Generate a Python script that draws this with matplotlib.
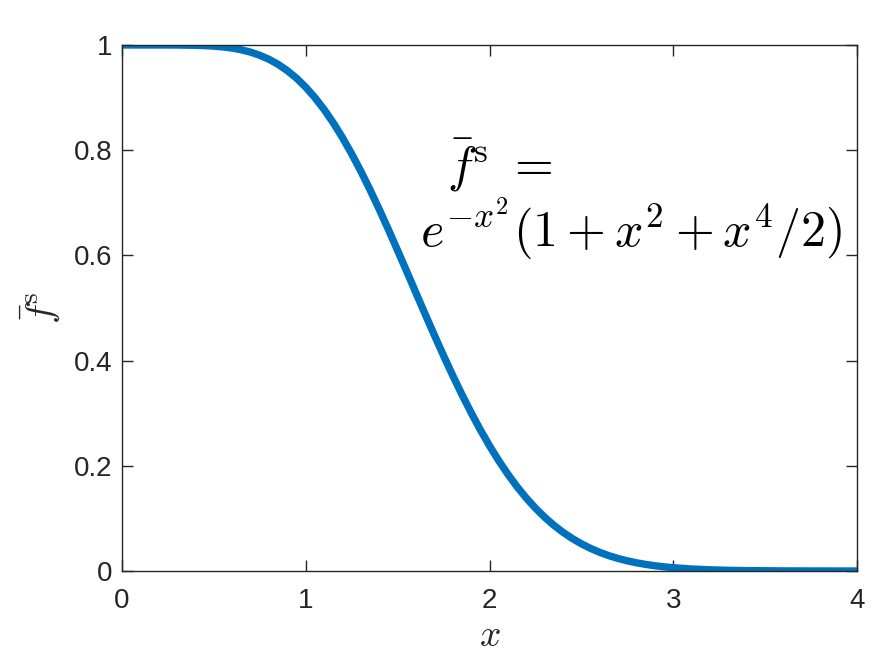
import matplotlib
matplotlib.use("Agg")
import matplotlib.pyplot as plt

# values
x_vals = [0.0, 0.1, 0.2, 0.3, 0.4, 0.45, 0.5, 0.55, 0.6, 0.65, 0.7, 0.75, 0.8, 0.85, 0.9, 0.95,
          1.0, 1.05, 1.1, 1.15, 1.2, 1.25, 1.3, 1.35, 1.4, 1.45, 1.5, 1.55, 1.6, 1.65, 1.7, 1.75,
          1.8, 1.85, 1.9, 1.95, 2.0, 2.05, 2.1, 2.15, 2.2, 2.25, 2.3, 2.35, 2.4, 2.45, 2.5, 2.55,
          2.6, 2.65, 2.7, 2.75, 2.8, 2.85, 2.9, 2.95, 3.0, 3.1, 3.2, 3.3, 3.4, 3.6, 3.8, 4.0]
f_vals = [1.0000, 1.0000, 1.0000, 0.9999, 0.9994, 0.9988, 0.9978, 0.9963, 0.9941, 0.9908,
          0.9864, 0.9804, 0.9728, 0.9631, 0.9511, 0.9368,
          0.9197, 0.8999, 0.8773, 0.8519, 0.8238, 0.7930, 0.7599, 0.7246, 0.6875, 0.6490,
          0.6093, 0.5691, 0.5285, 0.4881, 0.4483, 0.4093,
          0.3716, 0.3354, 0.3010, 0.2685, 0.2381, 0.2099, 0.1840, 0.1602, 0.1388, 0.1195,
          0.1023, 0.0870, 0.0736, 0.0619, 0.0517, 0.0430,
          0.0355, 0.0291, 0.0238, 0.0193, 0.0156, 0.0125, 0.0100, 0.0079, 0.0062, 0.0038,
          0.0023, 0.0013, 0.0008, 0.0002, 0.0001, 0.0000]
x_ticks = [0, 1, 2, 3, 4]
y_ticks = [0, 0.2, 0.4, 0.6, 0.8, 1]
y_ticklabels = ["0", "0.2", "0.4", "0.6", "0.8", "1"]

plt.rcParams["mathtext.fontset"] = "cm"
plt.rcParams["font.family"] = ["Liberation Sans", "DejaVu Sans"]

fig = plt.figure(figsize=(8.75, 6.56), dpi=100)
ax = fig.add_axes([122/875, 1-571/656, (857-122)/875, (571-45)/656])

ax.plot(x_vals, f_vals, color="#0072BD", lw=5.3, solid_capstyle="butt",
        solid_joinstyle="round")
ax.set_xlim(0, 4)
ax.set_ylim(0, 1)
ax.set_xticks(x_ticks)
ax.set_xticklabels([str(t) for t in x_ticks])
ax.set_yticks(y_ticks)
ax.set_yticklabels(y_ticklabels)

c = "#262626"
for s in ax.spines.values():
    s.set_color(c)
    s.set_linewidth(1.0)
ax.tick_params(direction="in", length=8, width=1.0, colors=c, labelsize=20,
               top=True, right=True)
ax.tick_params(axis="x", pad=12)
ax.tick_params(axis="y", pad=7)

ax.set_xlabel(r"$x$", fontsize=27, color=c, labelpad=3)
ax.set_ylabel(r"$\bar{f}^{\rm s}$", fontsize=28, color=c, labelpad=8)

ax.text(1.77, 0.741, r"$\bar{f}^{\rm s}\ =$", fontsize=36, ha="left", va="baseline")
ax.text(1.62, 0.616, r"$e^{-x^2}(1+x^2+x^4/2)$", fontsize=36, ha="left", va="baseline")

fig.savefig("out.png", dpi=100)
